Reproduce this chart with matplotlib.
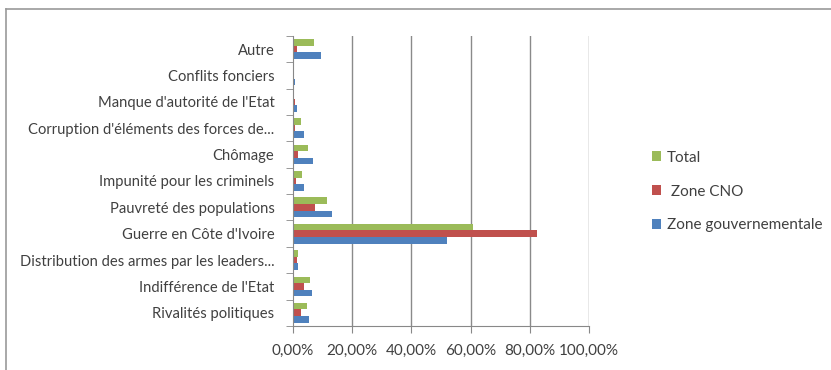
import numpy as np
import matplotlib
matplotlib.use('Agg')
from matplotlib import pyplot as plt

categories = ["Autre", "Conflits fonciers", "Manque d'autorité de l'Etat",
              "Corruption d'éléments des forces de...", "Chômage",
              "Impunité pour les criminels", "Pauvreté des populations",
              "Guerre en Côte d'Ivoire", "Distribution des armes par les leaders...",
              "Indifférence de l'Etat", "Rivalités politiques"]
total = [7.2, 0.5, 0.5, 2.8, 5.3, 3.3, 11.6, 61.0, 1.8, 6.0, 5.0]
zone_cno = [1.5, 0.5, 1.0, 1.0, 1.7, 1.3, 7.5, 82.5, 1.6, 4.0, 3.0]
zone_gouv = [9.5, 0.8, 1.5, 3.8, 6.8, 4.0, 13.4, 52.0, 1.8, 6.5, 5.5]
xticks = [0, 20, 40, 60, 80, 100]

plt.rcParams['font.family'] = ['Lato', 'DejaVu Sans']
txt = '#404040'

fig = plt.figure(figsize=(8.31, 3.70), dpi=100)
ax = fig.add_axes([0.352, 0.119, 0.357, 0.784])

n = len(categories)
y = np.arange(n)[::-1]
h = 0.25
ax.barh(y - h, zone_gouv, height=h, color='#4F81BD', label='Zone gouvernementale')
ax.barh(y, zone_cno, height=h, color='#C0504D', label=' Zone CNO')
ax.barh(y + h, total, height=h, color='#9BBB59', label='Total')

ax.set_xlim(0, 100)
ax.set_ylim(-0.5, n - 0.5)
ax.set_xticks(xticks)
ax.set_xticklabels([('%.2f%%' % v).replace('.', ',') for v in xticks], fontsize=11, color=txt)
ax.set_yticks(y)
ax.set_yticklabels(categories, fontsize=10.6, color=txt)
ax.set_yticks(np.arange(n + 1) - 0.5, minor=True)
ax.tick_params(axis='y', which='major', length=0, pad=13)
ax.tick_params(axis='y', which='minor', length=5, color='#888888', direction='out')
ax.tick_params(axis='x', length=5, color='#888888', direction='out', pad=8)
for v in xticks[1:]:
    ax.axvline(v, color='#8a8a8a', lw=1, zorder=0)
for s in ['top', 'right']:
    ax.spines[s].set_visible(False)
for s in ['left', 'bottom']:
    ax.spines[s].set_color('#888888')

handles, labels = ax.get_legend_handles_labels()
leg = fig.legend(handles[::-1], labels[::-1], loc='upper left', bbox_to_anchor=(0.768, 0.63),
                 frameon=False, fontsize=11, handlelength=0.6, handleheight=0.6,
                 labelspacing=1.3, handletextpad=0.4)
for t in leg.get_texts():
    t.set_color(txt)

# outer chart frame
fig.add_artist(plt.Line2D([0.007, 0.007], [0, 0.975], color='#999999', lw=1.2))
fig.add_artist(plt.Line2D([0.007, 1], [0.975, 0.975], color='#999999', lw=1.2))

fig.savefig('out.png', dpi=100)
